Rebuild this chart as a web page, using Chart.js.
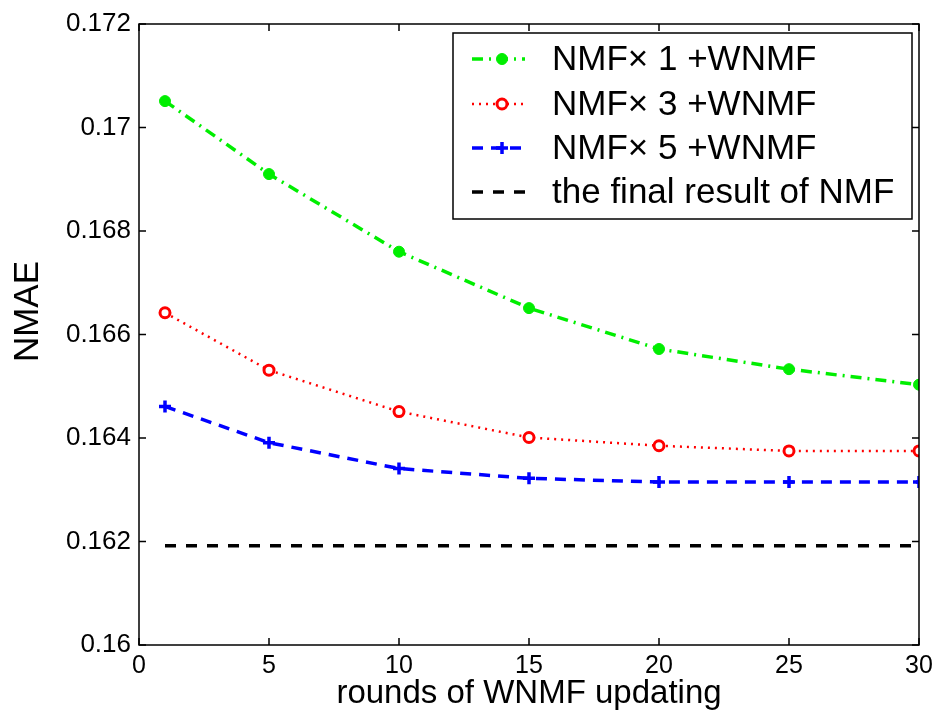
<!DOCTYPE html>
<html>
<head>
<meta charset="utf-8">
<script src="https://cdn.jsdelivr.net/npm/chart.js@4.4.1/dist/chart.umd.min.js"></script>
<style>
  html, body { margin: 0; padding: 0; background: #fff; }
  #wrap { width: 937px; height: 715px; }
</style>
</head>
<body>
<div id="wrap"><canvas id="c" width="937" height="715"></canvas></div>
<script>
// ---- data ----
const rounds = [1, 5, 10, 15, 20, 25, 30];
const nmf1 = [0.17051, 0.16910, 0.16760, 0.16651, 0.16572, 0.16533, 0.16503];
const nmf3 = [0.16642, 0.16531, 0.16451, 0.16401, 0.16385, 0.16375, 0.16375];
const nmf5 = [0.16461, 0.16391, 0.16341, 0.16322, 0.16315, 0.16315, 0.16315];
const finalX = [1, 30];
const finalNMF = [0.16192, 0.16192];
const seriesLabels = ['NMF\u00d7 1 +WNMF', 'NMF\u00d7 3 +WNMF', 'NMF\u00d7 5 +WNMF', 'the final result of NMF'];
const xTicks = [0, 5, 10, 15, 20, 25, 30];
const yTicks = [0.16, 0.162, 0.164, 0.166, 0.168, 0.17, 0.172];
const yTickLabels = ['0.16', '0.162', '0.164', '0.166', '0.168', '0.17', '0.172'];
const xTitle = 'rounds of WNMF updating';
const yTitle = 'NMAE';

const FONT = "'Liberation Sans', Arial, Helvetica, sans-serif";
const pts = (xs, ys) => xs.map((x, i) => ({ x: x, y: ys[i] }));

// frame + inward ticks + y title
const framePlugin = {
  id: 'frame',
  afterDatasetsDraw(chart) {
    const { ctx, chartArea: a, scales } = chart;
    ctx.save();
    ctx.strokeStyle = '#000';
    ctx.lineWidth = 1.5;
    ctx.setLineDash([]);
    ctx.strokeRect(a.left, a.top, a.right - a.left, a.bottom - a.top);
    const tl = 7;
    ctx.beginPath();
    xTicks.forEach(v => {
      const px = scales.x.getPixelForValue(v);
      ctx.moveTo(px, a.bottom); ctx.lineTo(px, a.bottom - tl);
      ctx.moveTo(px, a.top); ctx.lineTo(px, a.top + tl);
    });
    yTicks.forEach(v => {
      const py = scales.y.getPixelForValue(v);
      ctx.moveTo(a.left, py); ctx.lineTo(a.left + tl, py);
      ctx.moveTo(a.right, py); ctx.lineTo(a.right - tl, py);
    });
    ctx.stroke();
    // y axis title
    ctx.translate(28, a.top + (a.bottom - a.top) * 0.463);
    ctx.rotate(-Math.PI / 2);
    ctx.fillStyle = '#000';
    ctx.font = '35px ' + FONT;
    ctx.textAlign = 'center';
    ctx.textBaseline = 'middle';
    ctx.fillText(yTitle, 0, 0);
    ctx.restore();
  }
};

// legend box drawn in upper-right of plot area
const legendPlugin = {
  id: 'boxLegend',
  afterDraw(chart) {
    const { ctx } = chart;
    const box = { l: 453, t: 33, w: 459, h: 186 };
    ctx.save();
    ctx.fillStyle = '#fff';
    ctx.fillRect(box.l, box.t, box.w, box.h);
    ctx.strokeStyle = '#000';
    ctx.lineWidth = 1.5;
    ctx.setLineDash([]);
    ctx.strokeRect(box.l, box.t, box.w, box.h);
    const rowY = [26, 71, 115, 159];
    chart.data.datasets.forEach((ds, i) => {
      const y = box.t + rowY[i];
      const x0 = box.l + 19, x1 = box.l + 72, xm = box.l + 49;
      ctx.save();
      ctx.strokeStyle = ds.borderColor;
      ctx.lineWidth = ds.borderWidth;
      ctx.setLineDash(ds.borderDash || []);
      ctx.beginPath();
      ctx.moveTo(x0, y); ctx.lineTo(x1, y);
      ctx.stroke();
      ctx.setLineDash([]);
      if (ds.pointRadius > 0) {
        ctx.lineWidth = ds.pointBorderWidth;
        ctx.strokeStyle = ds.pointBorderColor;
        ctx.fillStyle = ds.pointBackgroundColor;
        const r = ds.pointRadius;
        ctx.beginPath();
        if (ds.pointStyle === 'cross') {
          ctx.moveTo(xm - r, y); ctx.lineTo(xm + r, y);
          ctx.moveTo(xm, y - r); ctx.lineTo(xm, y + r);
          ctx.stroke();
        } else {
          ctx.arc(xm, y, r, 0, Math.PI * 2);
          ctx.fill(); ctx.stroke();
        }
      }
      ctx.restore();
      ctx.fillStyle = '#000';
      ctx.font = '35px ' + FONT;
      ctx.textBaseline = 'middle';
      ctx.textAlign = 'left';
      ctx.fillText(ds.label, box.l + 99, y + 1);
    });
    ctx.restore();
  }
};

new Chart(document.getElementById('c'), {
  type: 'line',
  data: {
    datasets: [
      {
        label: seriesLabels[0], data: pts(rounds, nmf1),
        borderColor: '#00ee00', borderWidth: 3.5, borderDash: [11, 6, 2, 6],
        pointStyle: 'circle', pointRadius: 5.5, pointBorderWidth: 1,
        pointBackgroundColor: '#00ee00', pointBorderColor: '#00ee00',
        tension: 0, fill: false
      },
      {
        label: seriesLabels[1], data: pts(rounds, nmf3),
        borderColor: '#ff0000', borderWidth: 2.5, borderDash: [2, 5],
        pointStyle: 'circle', pointRadius: 5, pointBorderWidth: 3,
        pointBackgroundColor: '#ffffff', pointBorderColor: '#ff0000',
        tension: 0, fill: false
      },
      {
        label: seriesLabels[2], data: pts(rounds, nmf5),
        borderColor: '#0000ff', borderWidth: 3.5, borderDash: [11, 8],
        pointStyle: 'cross', pointRadius: 6, pointBorderWidth: 3.5,
        pointBackgroundColor: '#0000ff', pointBorderColor: '#0000ff',
        tension: 0, fill: false
      },
      {
        label: seriesLabels[3], data: pts(finalX, finalNMF),
        borderColor: '#000000', borderWidth: 3.5, borderDash: [11, 10],
        pointRadius: 0, pointBorderWidth: 0,
        tension: 0, fill: false
      }
    ]
  },
  options: {
    responsive: false,
    animation: false,
    events: [],
    layout: { padding: { left: 8, right: 18, top: 24, bottom: 0 } },
    plugins: { legend: { display: false }, tooltip: { enabled: false }, title: { display: false } },
    scales: {
      x: {
        type: 'linear', min: 0, max: 30,
        afterBuildTicks: s => { s.ticks = xTicks.map(v => ({ value: v })); },
        afterFit: s => { s.height = 70; s.paddingLeft = 0; s.paddingRight = 0; },
        grid: { display: false, drawTicks: false },
        border: { display: false },
        ticks: { color: '#000', font: { family: FONT, size: 25 }, padding: 6, maxRotation: 0,
                 callback: v => String(v) },
        title: { display: true, text: xTitle, color: '#000', font: { family: FONT, size: 33 },
                 padding: { top: 0, bottom: 1 } }
      },
      y: {
        type: 'linear', min: 0.16, max: 0.172,
        afterBuildTicks: s => { s.ticks = yTicks.map(v => ({ value: v })); },
        afterFit: s => { s.width = 131; s.paddingTop = 0; s.paddingBottom = 0; },
        grid: { display: false, drawTicks: false },
        border: { display: false },
        ticks: { color: '#000', font: { family: FONT, size: 26 }, padding: 8,
                 callback: (v) => { const i = yTicks.findIndex(t => Math.abs(t - v) < 1e-9); return i >= 0 ? yTickLabels[i] : ''; } },
        title: { display: false }
      }
    }
  },
  plugins: [framePlugin, legendPlugin]
});
</script>
</body>
</html>
